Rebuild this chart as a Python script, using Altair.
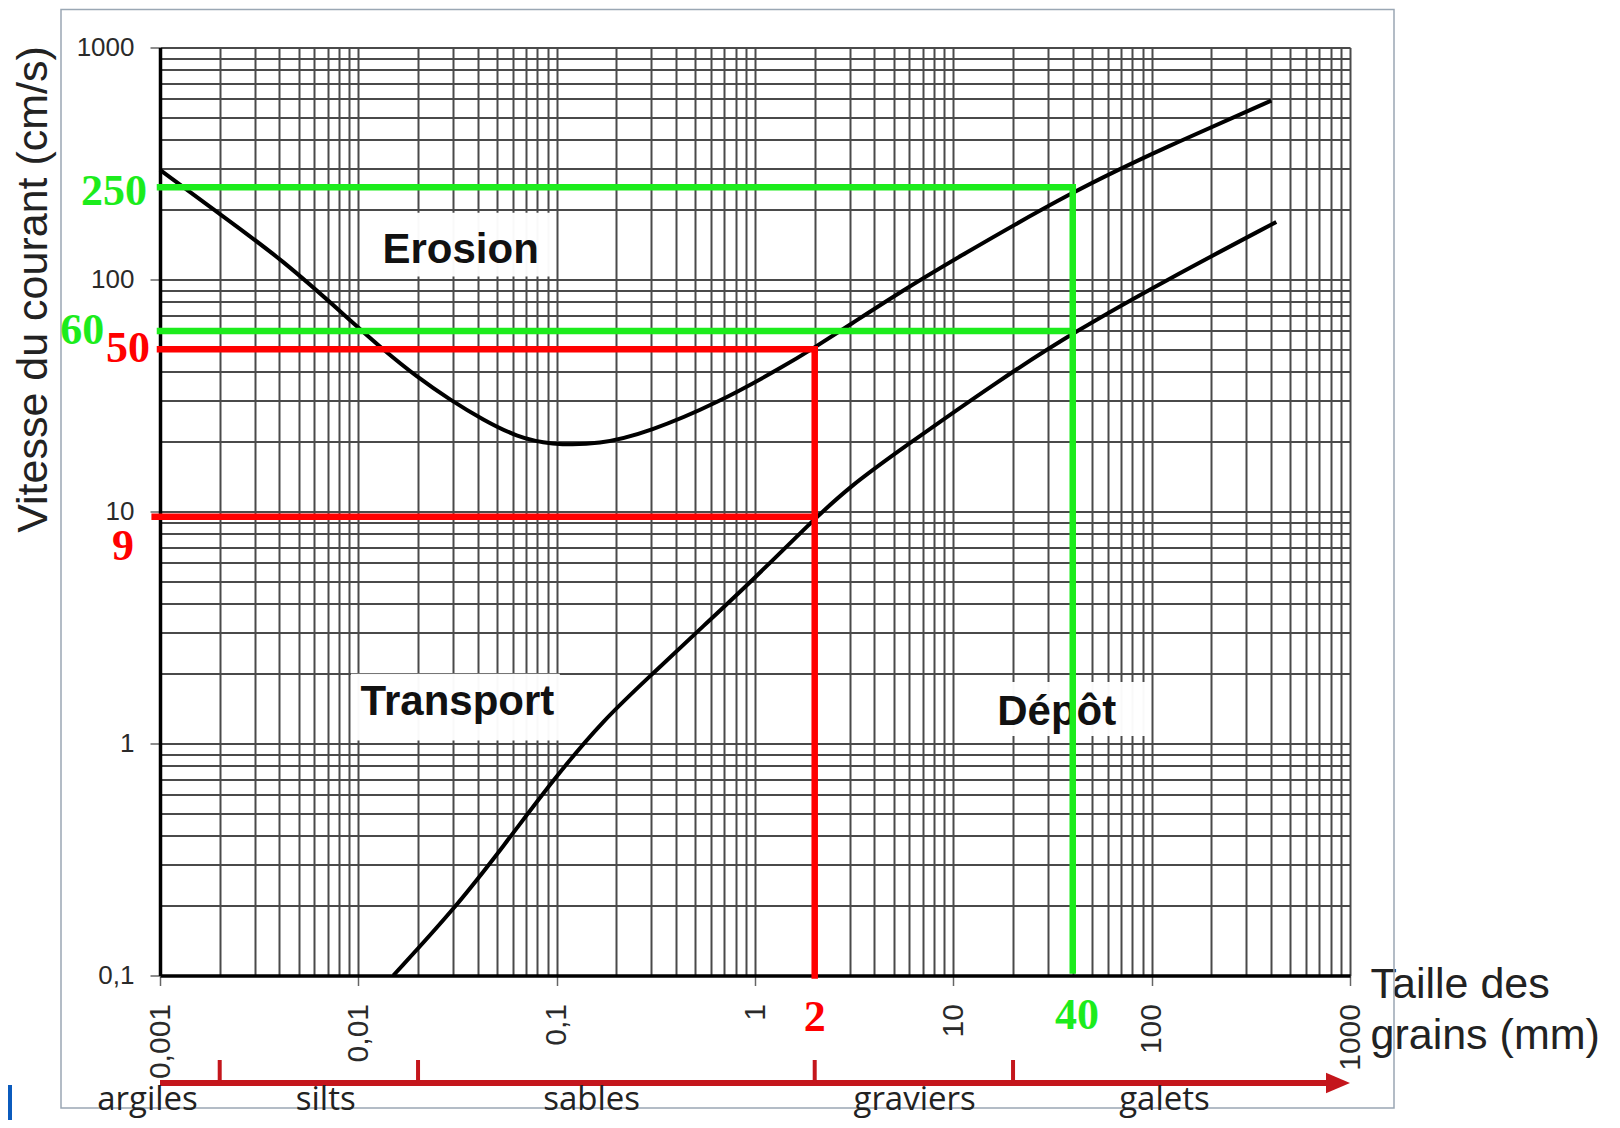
import json
import altair as alt
import pandas as pd

# ---------------- values ----------------
# Erosion threshold curve (upper curve)
erosion_size = [0.001, 0.00193, 0.00418, 0.00908, 0.0134, 0.0197, 0.029, 0.0427,
                0.0628, 0.0925, 0.165, 0.295, 0.64, 1.39, 2.0, 3.0, 5.37, 9.6,
                40.9, 118.6, 401]
erosion_speed = [297, 196, 121, 66.8, 49.7, 38.1, 30.3, 24.8,
                 21.0, 19.4, 19.4, 22.1, 29.2, 42.1, 51, 63.7, 88, 119,
                 243, 373, 590]
# Deposition threshold curve (lower curve)
depot_size = [0.0150, 0.0301, 0.0537, 0.0959, 0.171, 0.307, 0.547, 0.977, 1.89,
              3.0, 5.37, 17.1, 40.9, 118.6, 425]
depot_speed = [0.1, 0.191, 0.359, 0.697, 1.26, 2.01, 3.2, 5.07, 8.9,
               12.8, 18.4, 36.9, 59.6, 99.5, 177]

# Reading guides (red: 2 mm grain, green: 40 mm grain)
guide_color = ["red", "red", "red", "green", "green", "green"]
guide_x1 = [0.001, 2, 0.00094, 0.001, 0.001, 40]
guide_x2 = [2, 2, 2, 40, 40, 40]
guide_y1 = [50, 50, 9.5, 250, 60, 250]
guide_y2 = [50, 0.1, 9.5, 250, 60, 0.105]

# Numbers written next to the guides
left_num_text = ["250", "60", "50", "9"]
left_num_color = ["green", "green", "red", "red"]
left_num_x = [0.00086, 0.000523, 0.00089, 0.000739]
left_num_y = [238, 60.2, 50.1, 7.0]
bottom_num_text = ["2", "40"]
bottom_num_color = ["red", "green"]
bottom_num_x = [2, 42]
bottom_num_y = [0.0656, 0.0671]

# Zone labels and their white boxes
zone_name = ["Erosion", "Transport", "Dépôt"]
zone_x = [0.0328, 0.0316, 33.2]
zone_y = [134, 1.51, 1.37]
box_x1 = [0.01117, 0.00918, 14.7]
box_x2 = [0.098, 0.1037, 97]
box_y1 = [103, 1.03, 1.077]
box_y2 = [194, 2.0, 1.84]

# Grain classes under the axis
class_name = ["argiles", "silts", "sables", "graviers", "galets"]
class_x = [0.000865, 0.00685, 0.150, 6.38, 116]
class_bounds = [0.002, 0.02, 2, 20]
arrow_start = [0.001]
arrow_end = [800]
arrow_tip = [1000]

# Axis ticks
x_major = [0.001, 0.01, 0.1, 1, 10, 100, 1000]
x_major_labels = ["0,001", "0,01", "0,1", "1", "10", "100", "1000"]
y_major = [0.1, 1, 10, 100, 1000]
y_major_labels = ["0,1", "1", "10", "100", "1000"]

# ---------------- helpers ----------------
COL = {"red": "#ff0000", "green": "#1cec1c"}


def log_grid(majors):
    vals = []
    for v in majors[:-1]:
        for m in range(1, 10):
            vals.append(round(m * v, 8))
    vals.append(majors[-1])
    return vals


def label_expr(vals, labs):
    expr = "''"
    for v, lab in reversed(list(zip(vals, labs))):
        expr = f"datum.value == {v} ? '{lab}' : ({expr})"
    return expr


def major_test(vals):
    return f"indexof({json.dumps(vals)}, datum.value) >= 0"


xs = alt.Scale(type="log", domain=[0.001, 1000], nice=False)
ys = alt.Scale(type="log", domain=[0.1, 1000], nice=False)

common_axis = dict(
    grid=True, gridColor="#4a4a4a", gridWidth=2, gridOpacity=1,
    domain=True, domainColor="black", domainWidth=3.5,
    ticks=True, tickSize=10, tickColor="#666666", tickWidth=1.5,
    labelFont="Liberation Sans", labelColor="#2a2a2a",
    labelOverlap=False, labelFlush=False, labelBound=False,
    titleFont="Liberation Sans", titleFontSize=43, titleFontWeight="normal",
    titleColor="#222222",
)

x_axis = alt.Axis(
    values=log_grid(x_major),
    labelExpr=label_expr(x_major, x_major_labels),
    tickOpacity=alt.condition(major_test(x_major), alt.value(1), alt.value(0)),
    labelAngle=270, labelAlign="right", labelBaseline="middle", labelPadding=18,
    labelFontSize=30,
    title=["Taille des", "grains (mm)"],
    titleX=1210, titleY=22, titleAlign="left", titleBaseline="alphabetic",
    titleLineHeight=51,
    **common_axis,
)
y_axis = alt.Axis(
    values=log_grid(y_major),
    labelExpr=label_expr(y_major, y_major_labels),
    tickOpacity=alt.condition(major_test(y_major), alt.value(1), alt.value(0)),
    labelPadding=16, labelFontSize=26,
    title="Vitesse du courant (cm/s)",
    titleX=-127, titleY=241.5, titleAngle=270, titleAlign="center",
    titleBaseline="middle",
    **common_axis,
)

# ---------------- data tables ----------------
curves = pd.DataFrame({
    "size": erosion_size + depot_size,
    "speed": erosion_speed + depot_speed,
    "curve": ["erosion"] * len(erosion_size) + ["depot"] * len(depot_size),
    "order": list(range(len(erosion_size))) + list(range(len(depot_size))),
})
guides = pd.DataFrame({
    "size": guide_x1, "size2": guide_x2, "speed": guide_y1, "speed2": guide_y2,
    "c": [COL[c] for c in guide_color],
})
left_nums = pd.DataFrame({"size": left_num_x, "speed": left_num_y,
                          "t": left_num_text, "c": [COL[c] for c in left_num_color]})
bottom_nums = pd.DataFrame({"size": bottom_num_x, "speed": bottom_num_y,
                            "t": bottom_num_text, "c": [COL[c] for c in bottom_num_color]})
zones = pd.DataFrame({"size": zone_x, "speed": zone_y, "t": zone_name})
boxes = pd.DataFrame({"size": box_x1, "size2": box_x2, "speed": box_y1, "speed2": box_y2})
classes = pd.DataFrame({"size": class_x, "t": class_name})
bounds = pd.DataFrame({"size": class_bounds})
arrow = pd.DataFrame({"size": arrow_start, "size2": arrow_end})
tip = pd.DataFrame({"size": arrow_tip})
dummy = pd.DataFrame({"a": [0]})

X = alt.X("size:Q", scale=xs)
Y = alt.Y("speed:Q", scale=ys)

# ---------------- layers ----------------
frame = alt.Chart(dummy).mark_rect(fill=None, stroke="#9aa7b4", strokeWidth=1.5).encode(
    x=alt.value(-99), x2=alt.value(1234), y=alt.value(-38), y2=alt.value(1060.5))
blue = alt.Chart(dummy).mark_rect(color="#0b5bbd").encode(
    x=alt.value(-152), x2=alt.value(-148), y=alt.value(1037.5), y2=alt.value(1072.5))

line_layer = alt.Chart(curves).mark_line(
    color="black", strokeWidth=4, interpolate="basis").encode(
    x=alt.X("size:Q", scale=xs, axis=x_axis),
    y=alt.Y("speed:Q", scale=ys, axis=y_axis),
    detail="curve:N", order="order:Q")

box_layer = alt.Chart(boxes).mark_rect(color="white", opacity=0.97).encode(
    x=X, x2="size2:Q", y=Y, y2="speed2:Q")

zone_layer = alt.Chart(zones).mark_text(
    font="Liberation Sans", fontSize=42, fontWeight="bold", color="#111111",
    align="center", baseline="middle").encode(x=X, y=Y, text="t:N")

guide_layer = alt.Chart(guides).mark_rule(strokeWidth=6.5, strokeCap="square").encode(
    x=X, x2="size2:Q", y=Y, y2="speed2:Q", color=alt.Color("c:N", scale=None))

left_num_layer = alt.Chart(left_nums).mark_text(
    font="Liberation Serif", fontSize=44, fontWeight="bold",
    align="right", baseline="middle").encode(
    x=X, y=Y, text="t:N", color=alt.Color("c:N", scale=None))

bottom_num_layer = alt.Chart(bottom_nums).mark_text(
    font="Liberation Serif", fontSize=44, fontWeight="bold",
    align="center", baseline="middle").encode(
    x=X, y=Y, text="t:N", color=alt.Color("c:N", scale=None))

arrow_layer = alt.Chart(arrow).mark_rule(color="#c4161c", strokeWidth=6).encode(
    x=X, x2="size2:Q", y=alt.value(1035.5))
tip_layer = alt.Chart(tip).mark_point(
    shape="M -2 -0.85 L 0 0 L -2 0.85 Z", size=576, filled=True,
    color="#c4161c", opacity=1).encode(x=X, y=alt.value(1035.5))
bound_layer = alt.Chart(bounds).mark_rule(color="#c4161c", strokeWidth=4).encode(
    x=X, y=alt.value(1012.5), y2=alt.value(1035.5))
class_layer = alt.Chart(classes).mark_text(
    font="Open Sans", fontSize=33, color="#222222",
    align="center", baseline="middle").encode(x=X, y=alt.value(1052), text="t:N")

chart = alt.layer(
    frame, blue, line_layer, box_layer, zone_layer, guide_layer,
    left_num_layer, bottom_num_layer, arrow_layer, tip_layer, bound_layer,
    class_layer,
).properties(
    width=1190, height=928,
    autosize=alt.AutoSizeParams(type="none"),
    padding={"left": 152, "top": 39.5, "right": 262, "bottom": 144},
).configure_view(
    stroke="black", strokeWidth=3.5
).configure(background="white")

chart.save("out.html", embed_options={"renderer": "svg", "actions": False})
